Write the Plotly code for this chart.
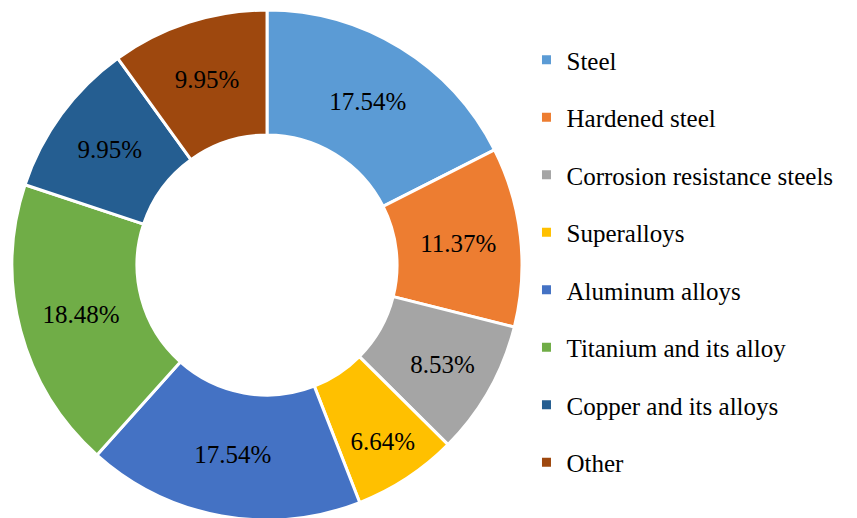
import plotly.graph_objects as go

categories = ["Steel", "Hardened steel", "Corrosion resistance steels", "Superalloys",
              "Aluminum alloys", "Titanium and its alloy", "Copper and its alloys", "Other"]
shares = [17.54, 11.37, 8.53, 6.64, 17.54, 18.48, 9.95, 9.95]
colors = ["#5B9BD5", "#ED7D31", "#A5A5A5", "#FFC000", "#4472C4", "#70AD47", "#255E91", "#9E480E"]

FONT = "Times New Roman, Liberation Serif, serif"

fig = go.Figure()
fig.add_trace(go.Pie(
    labels=categories, values=shares, sort=False, direction="clockwise", rotation=0,
    hole=0.51, marker=dict(colors=colors, line=dict(color="white", width=3)),
    texttemplate="%{value:.2f}%", textposition="inside", insidetextorientation="horizontal",
    textfont=dict(family=FONT, size=25, color="black"),
    insidetextfont=dict(family=FONT, size=25, color="black"),
    domain=dict(x=[0.0047, 0.5998], y=[0.0116, 0.996]), showlegend=False,
))
for c, col in zip(categories, colors):
    fig.add_trace(go.Scatter(x=[None], y=[None], mode="markers", name=c, legendgroup=c,
                             marker=dict(symbol="square", size=9, color=col)))

fig.update_layout(
    width=857, height=518, margin=dict(l=0, r=0, t=0, b=0),
    paper_bgcolor="white", plot_bgcolor="white",
    font=dict(family=FONT, size=25, color="black"),
    xaxis=dict(visible=False), yaxis=dict(visible=False),
    legend=dict(x=0.605, y=0.944, xanchor="left", yanchor="top", tracegroupgap=22,
                font=dict(family=FONT, size=25, color="black")),
)
fig.write_html("out.html")
